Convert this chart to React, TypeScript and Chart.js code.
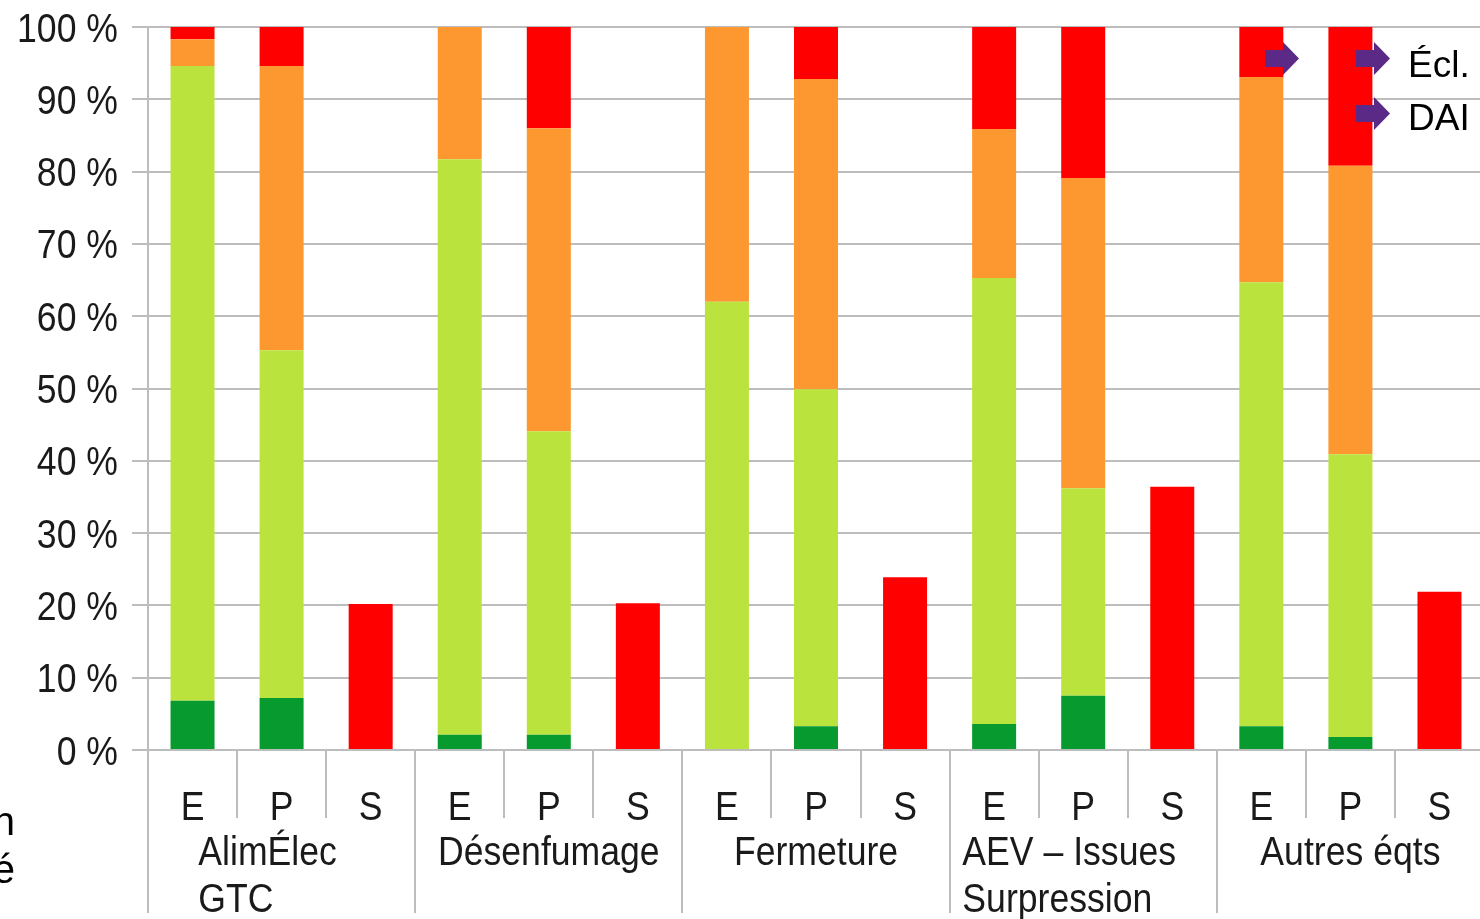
import React, { useEffect, useRef } from "react";
import { Chart, registerables } from "chart.js";

Chart.register(...registerables);

const categories = ["E", "P", "S", "E", "P", "S", "E", "P", "S", "E", "P", "S", "E", "P", "S"];
const groups: string[][] = [
  ["AlimÉlec", "GTC"],
  ["Désenfumage"],
  ["Fermeture"],
  ["AEV – Issues", "Surpression"],
  ["Autres éqts"],
];
const darkGreenValues = [6.8, 7.2, null, 2.1, 2.1, null, 0, 3.3, null, 3.6, 7.5, null, 3.3, 1.8, null];
const lightGreenValues = [87.8, 48.1, null, 79.6, 42.0, null, 62.0, 46.6, null, 61.7, 28.7, null, 61.4, 39.1, null];
const orangeValues = [3.7, 39.3, null, 18.3, 41.9, null, 38.0, 42.9, null, 20.6, 42.9, null, 28.4, 39.9, null];
const redValues = [1.7, 5.4, 20.2, 0, 14.0, 20.3, 0, 7.2, 23.9, 14.1, 20.9, 36.4, 6.9, 19.2, 21.9];
const yTicks = [0, 10, 20, 30, 40, 50, 60, 70, 80, 90, 100];
const legendLabels = ["Écl.", "DAI"];
const sideText = ["n", "é"];

const GRID = "#bdbdbd";
const TEXT = "#1a1a1a";
const SANS = "'Liberation Sans', Arial, sans-serif";
const PURPLE = "#5b2a86";
const AXIS_FONT = `40px ${SANS}`;
const SQUEEZE = 0.89;

function drawSqueezed(ctx: any, text: string, x: number, y: number, align: string) {
  ctx.save();
  ctx.translate(x, y);
  ctx.scale(SQUEEZE, 1);
  ctx.textAlign = align;
  ctx.textBaseline = "alphabetic";
  ctx.fillText(text, 0, 0);
  ctx.restore();
}

const axisLabelPlugin = {
  id: "axisLabels",
  afterDraw(chart: any) {
    const ctx = chart.ctx;
    const xs = chart.scales.x;
    const ys = chart.scales.y;
    const area = chart.chartArea;
    const n = categories.length;
    const step = (area.right - area.left) / n;
    ctx.save();
    ctx.strokeStyle = GRID;
    ctx.lineWidth = 2;
    for (let i = 0; i <= n; i++) {
      const px = Math.round(xs.getPixelForValue(Math.min(i, n - 1)) + (i === n ? step / 2 : -step / 2));
      const isGroup = i % 3 === 0;
      ctx.beginPath();
      ctx.moveTo(px, area.bottom);
      ctx.lineTo(px, area.bottom + (isGroup ? 163 : 68));
      ctx.stroke();
    }
    ctx.fillStyle = TEXT;
    ctx.font = AXIS_FONT;
    // y tick labels
    yTicks.forEach((v) => {
      drawSqueezed(ctx, `${v} %`, area.left - 30, ys.getPixelForValue(v) + 14.5, "right");
    });
    // category labels
    categories.forEach((c, i) => {
      drawSqueezed(ctx, c, xs.getPixelForValue(i), area.bottom + 70, "center");
    });
    // group labels
    groups.forEach((lines, g) => {
      const center = (xs.getPixelForValue(g * 3) + xs.getPixelForValue(g * 3 + 2)) / 2;
      const w = Math.max(...lines.map((l) => ctx.measureText(l).width)) * SQUEEZE;
      const left = center - w / 2 - (lines.length > 1 ? 14 : 0);
      lines.forEach((l, k) => {
        drawSqueezed(ctx, l, left, area.bottom + 115 + 47 * k, "left");
      });
    });
    ctx.restore();
  },
};

export default function App() {
  const ref = useRef<HTMLCanvasElement | null>(null);
  useEffect(() => {
    if (!ref.current) return;
    const chart = new Chart(ref.current, {
      type: "bar",
      data: {
        labels: categories,
        datasets: [
          { label: "Vert foncé", data: darkGreenValues, backgroundColor: "#079a2f" },
          { label: "Vert clair", data: lightGreenValues, backgroundColor: "#bbe33e" },
          { label: "Orange", data: orangeValues, backgroundColor: "#fd9730" },
          { label: "Rouge", data: redValues, backgroundColor: "#ff0000" },
        ],
      },
      options: {
        animation: false,
        responsive: false,
        devicePixelRatio: 1,
        layout: { padding: { top: 27, left: 0, right: 0, bottom: 0 } },
        datasets: { bar: { barPercentage: 0.494, categoryPercentage: 1, borderWidth: 0 } },
        plugins: { legend: { display: false }, tooltip: { enabled: false } },
        scales: {
          x: {
            stacked: true,
            grid: { display: false },
            border: { display: false },
            ticks: { display: false },
            afterFit: (s: any) => {
              s.height = 169;
            },
          },
          y: {
            stacked: true,
            min: 0,
            max: 100,
            afterBuildTicks: (s: any) => {
              s.ticks = yTicks.map((v) => ({ value: v }));
            },
            ticks: { display: false },
            grid: { color: GRID, lineWidth: 2, tickLength: 16, drawTicks: true },
            border: { color: GRID, width: 2 },
            afterFit: (s: any) => {
              s.width = 148;
            },
          },
        },
      },
      plugins: [axisLabelPlugin],
    });
    return () => chart.destroy();
  }, []);

  const arrow = (x0: number, yMid: number) => {
    const pts = [
      [x0, yMid - 8.5],
      [x0 + 18, yMid - 8.5],
      [x0 + 18, yMid - 16.5],
      [x0 + 34, yMid],
      [x0 + 18, yMid + 16.5],
      [x0 + 18, yMid + 8.5],
      [x0, yMid + 8.5],
    ];
    return pts.map((p) => p.join(",")).join(" ");
  };

  return (
    <div
      style={{
        position: "absolute",
        left: 0,
        top: 0,
        width: 1480,
        height: 919,
        overflow: "hidden",
        background: "#fff",
      }}
    >
      <canvas ref={ref} width={1484} height={919} style={{ display: "block" }} />
      <svg
        width={1480}
        height={919}
        style={{ position: "absolute", left: 0, top: 0, pointerEvents: "none" }}
      >
        <polygon points={arrow(1265, 58.5)} fill={PURPLE} />
        <polygon points={arrow(1356, 58.5)} fill={PURPLE} />
        <polygon points={arrow(1356, 113.5)} fill={PURPLE} />
        <text x={1408} y={77} fontFamily={SANS} fontSize={37} fill="#000">
          {legendLabels[0]}
        </text>
        <text x={1408} y={130} fontFamily={SANS} fontSize={37} fill="#000">
          {legendLabels[1]}
        </text>
        <text x={15} y={835} fontFamily={SANS} fontSize={40} fill="#000" textAnchor="end">
          {sideText[0]}
        </text>
        <text x={15} y={883} fontFamily={SANS} fontSize={40} fill="#000" textAnchor="end">
          {sideText[1]}
        </text>
      </svg>
    </div>
  );
}
